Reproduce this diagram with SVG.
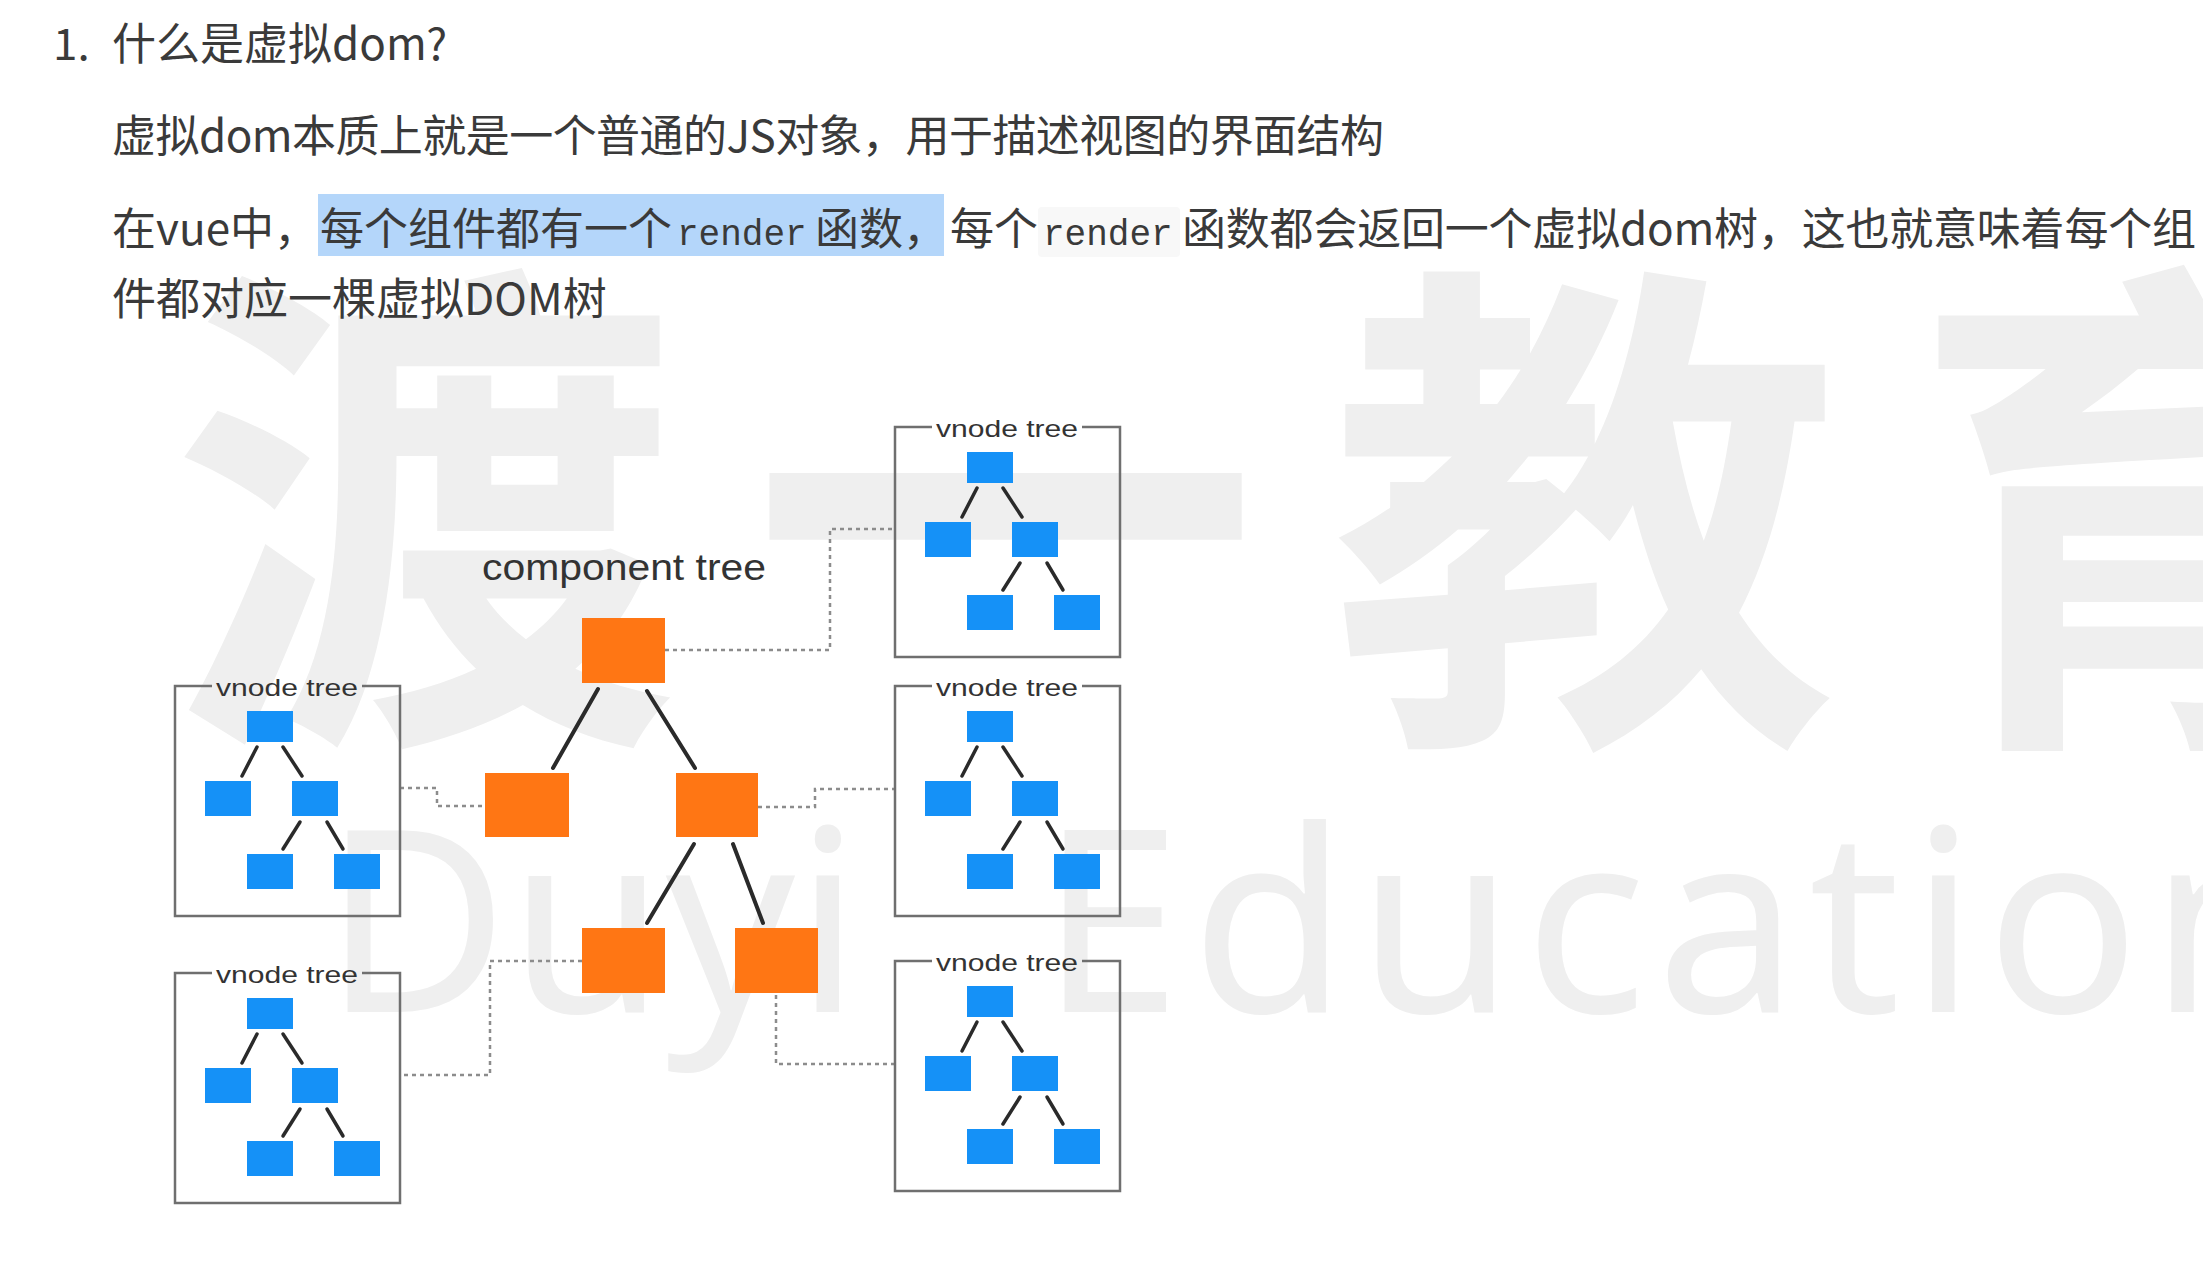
<svg xmlns="http://www.w3.org/2000/svg" xmlns:xlink="http://www.w3.org/1999/xlink" width="2203" height="1261" viewBox="0 0 2203 1261">
<style>
.t{font-family:"Noto Sans CJK SC","Noto Sans",sans-serif;font-size:44px;fill:#3a3a3a}
.code{font-family:"Liberation Mono",monospace;font-size:36px;fill:#3a3a3a}
.wmc{font-family:"Noto Sans CJK SC",sans-serif;font-weight:700;font-size:510px;fill:#efefef;letter-spacing:70px}
.wme{font-family:"Noto Sans","Liberation Sans",sans-serif;font-size:254px;fill:#efefef}
.box{fill:none;stroke:#6f6f6f;stroke-width:2.5}
.vn{fill:#1591f7}
.cn{fill:#ff7614}
.edge{stroke:#2a2a2a;stroke-width:3.5;stroke-linecap:round}
.cedge{stroke:#2a2a2a;stroke-width:4;stroke-linecap:round}
.dot{fill:none;stroke:#8c8c8c;stroke-width:2.5;stroke-dasharray:4 4}
.lbl{font-family:"Liberation Sans",Arial,sans-serif;fill:#333}
</style>
<defs>
<g id="vtree">
<path class="box" d="M37,0 H0 V230 H225 V0 H187"/>
<text class="lbl" x="112" y="10" font-size="24" text-anchor="middle" textLength="142" lengthAdjust="spacingAndGlyphs">vnode tree</text>
<rect class="vn" x="72" y="25" width="46" height="31"/>
<rect class="vn" x="30" y="95" width="46" height="35"/>
<rect class="vn" x="117" y="95" width="46" height="35"/>
<rect class="vn" x="72" y="168" width="46" height="35"/>
<rect class="vn" x="159" y="168" width="46" height="35"/>
<line class="edge" x1="82" y1="61" x2="67" y2="90"/>
<line class="edge" x1="108" y1="61" x2="127" y2="90"/>
<line class="edge" x1="125" y1="136" x2="108" y2="163"/>
<line class="edge" x1="152" y1="136" x2="168" y2="163"/>
</g>
</defs>
<rect width="2203" height="1261" fill="#ffffff"/>
<g id="watermark">
<text class="wmc" x="170" y="705">渡一教育</text>
<text class="wme" x="323" y="1012">Duyi</text>
<text class="wme" x="1040" y="1012" letter-spacing="10">Education</text>
</g>
<g id="heading">
<rect x="318" y="194" width="626" height="62" fill="#b4d6fa"/>
<rect x="1038" y="207" width="142" height="50" rx="4" fill="#f8f8f8"/>
<text class="t" x="53" y="60">1.</text>
<text class="t" x="112" y="60">什么是虚拟dom?</text>
<text class="t" x="112" y="152" textLength="1272" lengthAdjust="spacing">虚拟dom本质上就是一个普通的JS对象，用于描述视图的界面结构</text>
<text class="t" x="112" y="245">在vue中，</text>
<text class="t" x="320" y="245">每个组件都有一个</text>
<text class="code" x="677" y="245">render</text>
<text class="t" x="815" y="245">函数，</text>
<text class="t" x="950" y="245">每个</text>
<text class="code" x="1043" y="245">render</text>
<text class="t" x="1182" y="245" textLength="1014" lengthAdjust="spacing">函数都会返回一个虚拟dom树，这也就意味着每个组</text>
<text class="t" x="112" y="315">件都对应一棵虚拟DOM树</text>
</g>
<g id="connectors">
<path class="dot" d="M665,650 H830 V529 H895"/>
<path class="dot" d="M400,788 H437 V806 H485"/>
<path class="dot" d="M758,807 H815 V789 H895"/>
<path class="dot" d="M582,961 H490 V1075 H400"/>
<path class="dot" d="M776,995 V1064 H895"/>
<line class="cedge" x1="598" y1="689" x2="553" y2="768"/>
<line class="cedge" x1="647" y1="691" x2="695" y2="768"/>
<line class="cedge" x1="694" y1="844" x2="647" y2="923"/>
<line class="cedge" x1="733" y1="844" x2="763" y2="923"/>
</g>
<g id="component-tree-label">
<text class="lbl" x="482" y="580" font-size="36" textLength="284" lengthAdjust="spacingAndGlyphs">component tree</text>
</g>
<g id="comp-root"><rect class="cn" x="582" y="618" width="83" height="65"/></g>
<g id="comp-left"><rect class="cn" x="485" y="773" width="84" height="64"/></g>
<g id="comp-right"><rect class="cn" x="676" y="773" width="82" height="64"/></g>
<g id="comp-rl"><rect class="cn" x="582" y="928" width="83" height="65"/></g>
<g id="comp-rr"><rect class="cn" x="735" y="928" width="83" height="65"/></g>
<g id="vnode-tr"><use xlink:href="#vtree" x="895" y="427"/></g>
<g id="vnode-ml"><use xlink:href="#vtree" x="175" y="686"/></g>
<g id="vnode-mr"><use xlink:href="#vtree" x="895" y="686"/></g>
<g id="vnode-bl"><use xlink:href="#vtree" x="175" y="973"/></g>
<g id="vnode-br"><use xlink:href="#vtree" x="895" y="961"/></g>
</svg>
